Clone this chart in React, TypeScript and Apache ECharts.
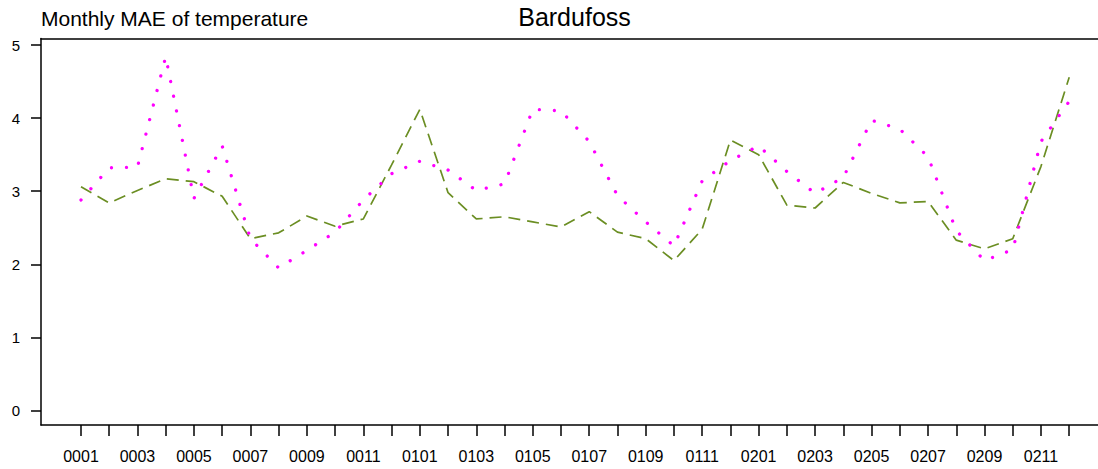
import React, { useEffect, useRef } from "react";
import * as echarts from "echarts";

// Month codes (YYMM) along the bottom axis
const months = [
  "0001", "0002", "0003", "0004", "0005", "0006", "0007", "0008", "0009", "0010", "0011", "0012",
  "0101", "0102", "0103", "0104", "0105", "0106", "0107", "0108", "0109", "0110", "0111", "0112",
  "0201", "0202", "0203", "0204", "0205", "0206", "0207", "0208", "0209", "0210", "0211", "0212",
];

// Monthly mean absolute error, dashed olive series
const maeDashed = [
  3.06, 2.84, 3.01, 3.17, 3.13, 2.93, 2.35, 2.43, 2.66, 2.52, 2.62, 3.36,
  4.12, 2.98, 2.62, 2.65, 2.58, 2.51, 2.72, 2.44, 2.35, 2.05, 2.48, 3.70,
  3.50, 2.81, 2.77, 3.12, 2.97, 2.84, 2.86, 2.33, 2.21, 2.35, 3.34, 4.56,
];

// Monthly mean absolute error, dotted magenta series
const maeDotted = [
  2.88, 3.32, 3.33, 4.84, 2.90, 3.62, 2.35, 1.95, 2.19, 2.44, 2.88, 3.24,
  3.41, 3.29, 3.01, 3.10, 4.12, 4.10, 3.68, 2.94, 2.58, 2.25, 3.14, 3.42,
  3.62, 3.27, 2.97, 3.19, 3.97, 3.85, 3.47, 2.46, 2.05, 2.20, 3.68, 4.23,
];

const yTicks = [0, 1, 2, 3, 4, 5];

const FONT = "'Liberation Sans', Arial, Helvetica, sans-serif";
const AXIS_COLOR = "#000";

export default function App() {
  const ref = useRef<HTMLDivElement>(null);

  useEffect(() => {
    if (!ref.current) return;
    const chart = echarts.init(ref.current, undefined, { renderer: "svg" });

    const monthIdx = months.map((_, i) => i);
    const xMin = -1.4167;
    const xMax = 36.019;
    const axisLine = { show: true, onZero: false, lineStyle: { color: AXIS_COLOR, width: 1.5 } };

    chart.setOption({
      animation: false,
      backgroundColor: "#fff",
      grid: { left: 41, right: 0, top: 38.5, bottom: 44, containLabel: false },
      graphic: [
        {
          type: "text",
          left: 41,
          top: 8,
          style: { text: "Monthly MAE of temperature", font: `21px ${FONT}`, fill: "#000" },
        },
        {
          type: "text",
          x: 574.5,
          y: 4,
          style: {
            text: "Bardufoss",
            font: `25px ${FONT}`,
            fill: "#000",
            textAlign: "center",
            textVerticalAlign: "top",
          },
        },
      ],
      xAxis: [
        {
          type: "value",
          min: xMin,
          max: xMax,
          position: "bottom",
          axisLine,
          axisTick: {
            show: true,
            length: 11,
            customValues: monthIdx,
            lineStyle: { color: AXIS_COLOR, width: 1.5 },
          },
          axisLabel: {
            show: true,
            customValues: monthIdx.filter((i) => i % 2 === 0),
            formatter: (v: number) => months[Math.round(v)] ?? "",
            margin: 23,
            fontSize: 16,
            fontFamily: FONT,
            color: "#000",
          },
          splitLine: { show: false },
        },
        {
          type: "value",
          min: xMin,
          max: xMax,
          position: "top",
          axisLine,
          axisTick: { show: false },
          axisLabel: { show: false },
          splitLine: { show: false },
        },
      ],
      yAxis: {
        type: "value",
        min: -0.2,
        max: 5.09,
        axisLine,
        axisTick: {
          show: true,
          length: 10,
          customValues: yTicks,
          lineStyle: { color: AXIS_COLOR, width: 1.5 },
        },
        axisLabel: {
          show: true,
          customValues: yTicks,
          margin: 21,
          fontSize: 15,
          fontFamily: FONT,
          color: "#000",
        },
        splitLine: { show: false },
      },
      series: [
        {
          type: "line",
          xAxisIndex: 0,
          data: maeDashed.map((v, i) => [i, v]),
          symbol: "none",
          lineStyle: { color: "#6B8E23", width: 1.7, type: [12, 7] },
        },
        {
          type: "line",
          xAxisIndex: 0,
          data: maeDotted.map((v, i) => [i, v]),
          symbol: "none",
          lineStyle: { color: "#FF00FF", width: 3.3, type: [0.01, 15], cap: "round" },
        },
      ],
    });

    return () => chart.dispose();
  }, []);

  return (
    <div
      ref={ref}
      style={{ position: "absolute", left: 0, top: 0, width: 1098, height: 469 }}
    />
  );
}
